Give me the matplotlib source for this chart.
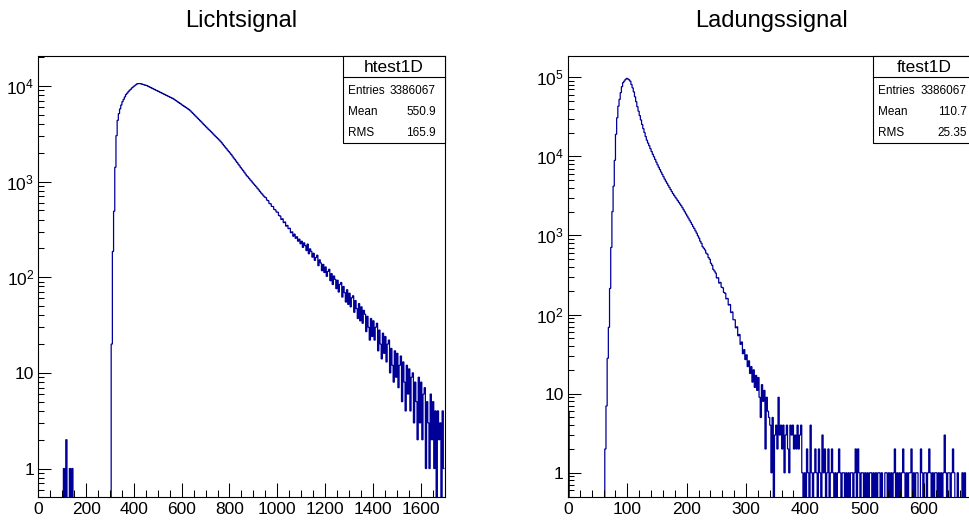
import numpy as np
import matplotlib
matplotlib.use('Agg')
import matplotlib.pyplot as plt
from matplotlib.patches import Rectangle
from matplotlib.lines import Line2D
from matplotlib.ticker import MultipleLocator, LogLocator, FuncFormatter, NullFormatter

plt.rcParams.update({
    'font.family': ['Liberation Sans', 'DejaVu Sans'],
    'mathtext.fontset': 'custom',
    'mathtext.rm': 'Liberation Sans',
    'mathtext.it': 'Liberation Sans:italic',
    'mathtext.bf': 'Liberation Sans:bold',
})

# --- data (counts per bin) ---
licht_title = 'Lichtsignal'
licht_name = 'htest1D'
licht_stats = ['3386067', '550.9', '165.9']
licht_start, licht_width = 100, 5
licht_counts = [
    0, 1, 0, 2, 0, 0, 1, 0, 1, 0,
    0, 0, 0, 0, 0, 0, 0, 0, 0, 0,
    0, 0, 0, 0, 0, 0, 0, 0, 0, 0,
    0, 0, 0, 0, 0, 0, 0, 0, 0, 0,
    0, 20, 186, 490, 1410, 3020, 4370, 5130, 5750, 6310,
    6840, 7240, 7670, 8130, 8410, 8710, 9020, 9230, 9550, 9770,
    10000, 10230, 10470, 10570, 10590, 10570, 10470, 10380, 10280, 10190,
    10120, 9990, 9840, 9700, 9570, 9420, 9290, 9160, 9020, 8910,
    8770, 8650, 8530, 8410, 8300, 8170, 8050, 7940, 7830, 7730,
    7600, 7500, 7400, 7280, 7130, 7000, 6850, 6710, 6590, 6460,
    6320, 6210, 6080, 5960, 5850, 5730, 5610, 5470, 5310, 5160,
    5010, 4860, 4730, 4590, 4460, 4330, 4210, 4080, 3950, 3850,
    3730, 3630, 3520, 3430, 3330, 3240, 3140, 3050, 2960, 2880,
    2800, 2720, 2640, 2550, 2460, 2370, 2290, 2210, 2130, 2060,
    1990, 1920, 1850, 1770, 1710, 1640, 1580, 1520, 1460, 1400,
    1350, 1300, 1250, 1200, 1150, 1120, 1080, 1040, 1010, 970,
    940, 910, 880, 850, 820, 790, 760, 740, 710, 690,
    680, 640, 630, 590, 585, 550, 548, 512, 505, 480,
    478, 442, 436, 402, 408, 372, 378, 342, 348, 322,
    325, 292, 298, 268, 282, 255, 265, 238, 250, 224,
    238, 205, 229, 214, 190, 222, 176, 198, 186, 162,
    178, 150, 161, 170, 132, 152, 141, 117, 136, 112,
    128, 102, 115, 121, 92, 109, 84, 103, 95, 76,
    93, 70, 84, 88, 62, 80, 69, 55, 74, 52,
    68, 49, 61, 64, 43, 57, 47, 37, 53, 35,
    49, 33, 45, 41, 27, 39, 30, 22, 37, 24,
    35, 22, 30, 33, 17, 28, 20, 14, 26, 16,
    24, 13, 20, 22, 10, 18, 12, 8, 17, 9,
    16, 7, 12, 15, 5, 13, 8, 4, 12, 6,
    11, 4, 9, 10, 3, 8, 5, 2, 9, 3,
    8, 2, 6, 7, 1, 5, 3, 1, 6, 2,
    5, 1, 4, 0, 4, 2, 3, 0, 4, 1,
]

ladung_title = 'Ladungssignal'
ladung_name = 'ftest1D'
ladung_stats = ['3386067', '110.7', '25.35']
ladung_start, ladung_width = 0, 2
ladung_counts = [
    6, 0, 0, 0, 0, 0, 0, 0, 0, 0,
    0, 0, 0, 0, 0, 0, 0, 0, 0, 0,
    0, 0, 0, 0, 0, 0, 0, 0, 0, 0,
    0, 2, 7, 28, 69, 214, 705, 2000, 4200, 8900,
    19000, 30700, 43000, 52500, 63800, 75900, 85500, 89300, 93500, 96600,
    95100, 92700, 89100, 80800, 73300, 65300, 56500, 49000, 42400, 37200,
    32700, 28800, 25200, 22400, 20000, 17800, 16000, 14700, 13600, 12500,
    11500, 10600, 9850, 9120, 8450, 7830, 7280, 6800, 6340, 5920,
    5530, 5160, 4850, 4570, 4300, 4050, 3810, 3590, 3380, 3210,
    3050, 2900, 2760, 2620, 2490, 2370, 2240, 2110, 1990, 1870,
    1760, 1660, 1560, 1470, 1380, 1290, 1220, 1140, 1070, 990,
    925, 845, 795, 720, 690, 655, 598, 580, 525, 500,
    445, 420, 372, 355, 335, 290, 292, 250, 255, 222,
    218, 190, 186, 158, 160, 132, 134, 106, 108, 86,
    86, 68, 70, 54, 56, 42, 45, 32, 36, 27,
    31, 22, 26, 18, 22, 14, 20, 12, 17, 11,
    16, 9, 5, 13, 8, 11, 2, 9, 6, 5,
    4, 1, 5, 0, 3, 4, 2, 9, 3, 4,
    2, 4, 1, 3, 4, 2, 1, 4, 3, 4,
    2, 3, 2, 4, 2, 3, 4, 1, 0, 1,
    0, 2, 1, 0, 4, 1, 0, 1, 2, 1,
    0, 2, 1, 0, 3, 1, 2, 0, 1, 2,
    0, 1, 2, 1, 0, 1, 0, 1, 2, 1,
    0, 1, 1, 0, 1, 0, 1, 0, 1, 1,
    0, 1, 2, 0, 2, 1, 0, 1, 1, 0,
    1, 0, 1, 0, 1, 1, 0, 1, 0, 1,
    0, 1, 1, 0, 1, 0, 0, 1, 1, 0,
    1, 0, 1, 0, 1, 2, 0, 1, 0, 1,
    0, 1, 2, 1, 0, 1, 0, 1, 1, 2,
    0, 1, 0, 1, 1, 0, 0, 2, 1, 0,
    1, 1, 0, 1, 2, 1, 0, 1, 0, 1,
    1, 0, 1, 0, 1, 0, 1, 3, 1, 0,
    1, 1, 0, 1, 2, 1, 0, 0, 1, 0,
    0, 0, 1, 0, 1, 0, 0, 0, 0, 0,
    0, 0, 0, 0, 0, 0, 0, 0, 0, 0,
]

stat_labels = ['Entries', 'Mean', 'RMS']

hist_blue = '#000099'
W, H = 969, 522


def px_rect(x0, y0, x1, y1):
    # pixel box (top-left origin) -> figure fraction [l, b, w, h]
    return [x0 / W, 1 - y1 / H, (x1 - x0) / W, (y1 - y0) / H]


def log_label(v, pos):
    if np.isclose(v, 1):
        return '1'
    if np.isclose(v, 10):
        return '10'
    return r'$\mathdefault{10^{%d}}$' % round(np.log10(v))


def draw_panel(fig, rect, start, width, counts, xmax, ymin, ymax, xmajor, xminor):
    ax = fig.add_axes(px_rect(*rect))
    counts = np.asarray(counts, dtype=float)
    edges = start + width * np.arange(len(counts) + 1)
    shown = np.where(counts > 0, counts, 1e-2)
    st = ax.stairs(shown, edges, color=hist_blue, lw=0.9, baseline=None)
    st.set_snap(False)

    ax.set_yscale('log')
    ax.set_xlim(0, xmax)
    ax.set_ylim(ymin, ymax)
    ax.xaxis.set_major_locator(MultipleLocator(xmajor))
    ax.xaxis.set_minor_locator(MultipleLocator(xminor))
    ax.yaxis.set_major_locator(LogLocator(base=10))
    ax.yaxis.set_minor_locator(LogLocator(base=10, subs=np.arange(2, 10)))
    ax.yaxis.set_major_formatter(FuncFormatter(log_label))
    ax.yaxis.set_minor_formatter(NullFormatter())

    ax.tick_params(which='both', direction='in', top=False, right=False,
                   width=0.75, labelsize=12.5, colors='black')
    ax.tick_params(axis='x', which='major', length=10, pad=3.5)
    ax.tick_params(axis='x', which='minor', length=5.2)
    ax.tick_params(axis='y', which='major', length=9.5, pad=3)
    ax.tick_params(axis='y', which='minor', length=4.5)
    for sp in ax.spines.values():
        sp.set_linewidth(0.8)
    return ax


def stats_box(fig, x0, x1, name, values):
    y0, y1, ydiv = 55.7, 142.5, 76.5
    fig.add_artist(Rectangle((x0 / W, 1 - y1 / H), (x1 - x0) / W, (y1 - y0) / H,
                             transform=fig.transFigure, facecolor='white',
                             edgecolor='black', lw=0.8, zorder=5))
    fig.add_artist(Line2D([x0 / W, x1 / W], [1 - ydiv / H] * 2,
                          transform=fig.transFigure, color='black', lw=0.8, zorder=6))
    fig.text((x0 + x1) / 2 / W, 1 - 72.5 / H, name, ha='center', va='baseline',
             fontsize=12.5, zorder=7)
    for lab, val, yb in zip(stat_labels, values, [93.5, 115.0, 136.5]):
        fig.text((x0 + 5) / W, 1 - yb / H, lab, ha='left', va='baseline',
                 fontsize=8.5, zorder=7)
        fig.text((x1 - 8.5) / W, 1 - yb / H, val, ha='right', va='baseline',
                 fontsize=8.5, zorder=7)


fig = plt.figure(figsize=(W / 100, H / 100), dpi=100)

ax1 = draw_panel(fig, (38.3, 55.7, 444.5, 497.3), licht_start, licht_width, licht_counts,
                 1700, 0.5, 2.07e4, 200, 50)
ax2 = draw_panel(fig, (568.0, 55.7, 975.0, 497.3), ladung_start, ladung_width, ladung_counts,
                 686, 0.49, 1.87e5, 100, 20)

fig.text(241.4 / W, 1 - 26.7 / H, licht_title, ha='center', va='baseline', fontsize=17)
fig.text(771.5 / W, 1 - 26.7 / H, ladung_title, ha='center', va='baseline', fontsize=17)

stats_box(fig, 342.7, 444.5, licht_name, licht_stats)
stats_box(fig, 873.0, 975.0, ladung_name, ladung_stats)

fig.savefig('out.png', dpi=100)
